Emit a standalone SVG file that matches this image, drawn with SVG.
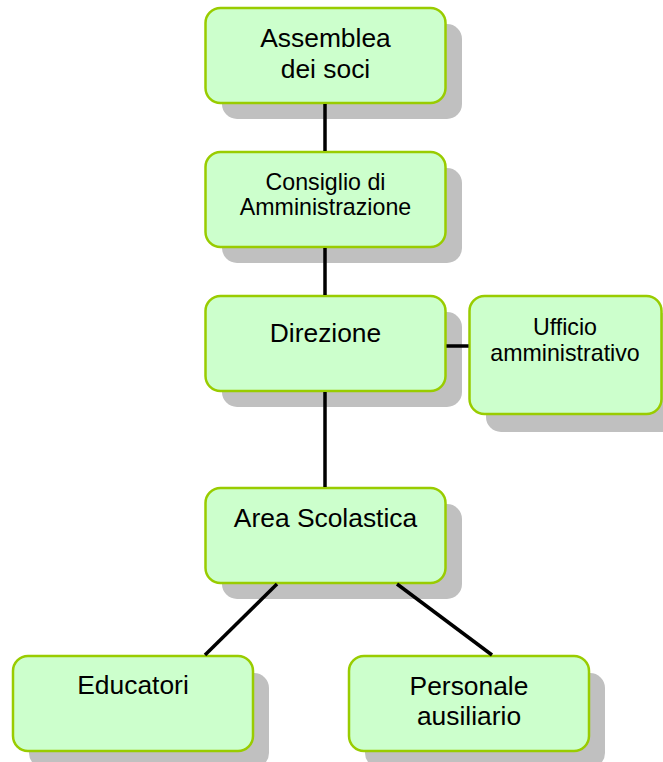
<svg xmlns="http://www.w3.org/2000/svg" width="663" height="762" viewBox="0 0 663 762">
<style>
.sh{fill:#c0c0c0;}
.bx{fill:#ccffcc;stroke:#99cc00;stroke-width:2.5;}
.t{font-family:"Liberation Sans",Arial,sans-serif;fill:#000;text-anchor:middle;}
.big{font-size:26.4px;}
.sm{font-size:23.2px;}
.c{stroke:#000;stroke-width:3.5;fill:none;}
</style>
<rect width="663" height="762" fill="#fff"/>
<g id="assemblea">
<rect class="sh" x="222" y="24" width="240" height="95" rx="15"/>
<rect class="bx" x="205.5" y="8" width="240" height="95" rx="15"/>
<text class="t big" x="325.5" y="47">Assemblea</text>
<text class="t big" x="325.5" y="78">dei soci</text>
</g>
<g id="consiglio">
<rect class="sh" x="222" y="168" width="240" height="95" rx="15"/>
<rect class="bx" x="205.5" y="152" width="240" height="95" rx="15"/>
<text class="t sm" x="325.5" y="190">Consiglio di</text>
<text class="t sm" x="325.5" y="215">Amministrazione</text>
</g>
<g id="direzione">
<rect class="sh" x="222" y="312" width="240" height="95" rx="15"/>
<rect class="bx" x="205.5" y="296" width="240" height="95" rx="15"/>
<text class="t big" x="325.5" y="342">Direzione</text>
</g>
<g id="ufficio">
<rect class="sh" x="486" y="313" width="192" height="119" rx="15"/>
<rect class="bx" x="469.5" y="296" width="192" height="118" rx="15"/>
<text class="t sm" x="565" y="335">Ufficio</text>
<text class="t sm" x="565" y="361">amministrativo</text>
</g>
<g id="area">
<rect class="sh" x="222" y="504" width="240" height="95" rx="15"/>
<rect class="bx" x="205.5" y="488" width="240" height="95" rx="15"/>
<text class="t big" x="325.5" y="527">Area Scolastica</text>
</g>
<g id="educatori">
<rect class="sh" x="29" y="673" width="240" height="95" rx="15"/>
<rect class="bx" x="13" y="656" width="240" height="95" rx="15"/>
<text class="t big" x="133" y="694">Educatori</text>
</g>
<g id="personale">
<rect class="sh" x="365" y="673" width="240" height="95" rx="15"/>
<rect class="bx" x="349" y="656" width="240" height="95" rx="15"/>
<text class="t big" x="469" y="695">Personale</text>
<text class="t big" x="469" y="725">ausiliario</text>
</g>
<g id="connectors">
<line class="c" x1="325" y1="104" x2="325" y2="151"/>
<line class="c" x1="325" y1="248" x2="325" y2="295"/>
<line class="c" x1="325" y1="392" x2="325" y2="487"/>
<line class="c" x1="446.5" y1="346" x2="468.5" y2="346"/>
<line class="c" x1="277" y1="584" x2="205" y2="655"/>
<line class="c" x1="397" y1="584" x2="492" y2="655"/>
</g>
</svg>
